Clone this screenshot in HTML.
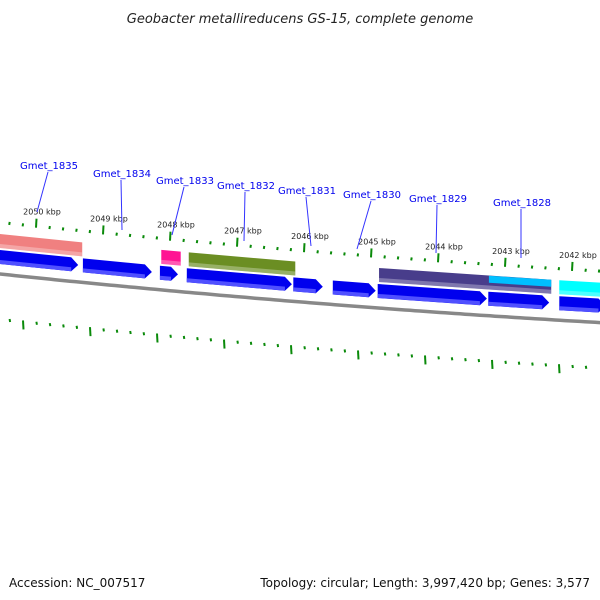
<!DOCTYPE html>
<html><head><meta charset="utf-8"><style>
body{margin:0;background:#fff}
svg{display:block;font-family:"DejaVu Sans","Liberation Sans",sans-serif}
</style></head><body>
<svg id="map" width="600" height="600" viewBox="0 0 600 600">
<text x="300" y="23" text-anchor="middle" font-size="13" font-style="italic" fill="#222">Geobacter metallireducens GS-15, complete genome</text>
<text x="9" y="587" font-size="12" fill="#111">Accession: NC_007517</text>
<text x="590" y="587" font-size="12" fill="#111" text-anchor="end">Topology: circular; Length: 3,997,420 bp; Genes: 3,577</text>
<g id="layer"></g>
</svg>
<script>
const arrows=[[2050.54,2049.37],[2049.30,2048.27],[2048.15,2047.88],[2047.75,2046.18],[2046.16,2045.72],[2045.57,2044.93],[2044.90,2043.27],[2043.25,2042.34],[2042.19,2041.5]];
const bars=[[2050.6,2049.31,"#f08080"],[2048.13,2047.84,"#ff1493"],[2047.72,2046.13,"#6b8e23"],[2044.88,2042.31,"#483d8b"],[2042.19,2041.5,"#00ffff"]];
const halfBars=[[2043.24,2042.31,"#00bfff"]];
const tickKbp=[2050,2049,2048,2047,2046,2045,2044,2043,2042];
const geneNames=["Gmet_1835","Gmet_1834","Gmet_1833","Gmet_1832","Gmet_1831","Gmet_1830","Gmet_1829","Gmet_1828"];
const geneLabelX=[49,122,185,246,307,372,438,522];
const geneLabelY=[169,177,184,189,194,198,202,206];
const geneLineEndX=[37,122,172,244,311,357,436,521];
const geneLineEndY=[212,230,235,241,246,249,253,258];
const NS="http://www.w3.org/2000/svg";
const g=document.getElementById('layer');
const X=p=>36+(2050-p)*67;
const B=x=>270+0.105*x-4e-5*x*x;
function mk(t,a){const e=document.createElementNS(NS,t);for(const k in a)e.setAttribute(k,a[k]);g.appendChild(e);return e;}
function band(x1,x2,o1,o2,fill){
  const pts=[[x1,B(x1)+o1],[x2,B(x2)+o1],[x2,B(x2)+o2],[x1,B(x1)+o2]].map(p=>p.join(',')).join(' ');
  return mk('polygon',{points:pts,fill:fill});
}
// backbone
let d="";for(let x=-5;x<=605;x+=5){d+=(x<0?"M":"L")+x+","+(B(x)+4).toFixed(1);}
const bb=mk('path',{d:d,stroke:"#888",'stroke-width':3.5,fill:"none"});

// arrows
arrows.forEach(a=>{
  const x1=X(a[0]),x2=X(a[1]);const h=x2-7;
  const pts=[[x1,B(x1)-20],[h,B(h)-20],[x2,B(x2)-13],[h,B(h)-6],[x1,B(x1)-6]].map(p=>p.map(v=>v.toFixed(1)).join(',')).join(' ');
  const e=mk('polygon',{points:pts,fill:"#0000ee"});
  
  const s=band(x1,h,-10,-6,"#5050ff");
  
});
bars.forEach(b=>{
  const x1=X(b[0]),x2=X(b[1]);
  const e=band(x1,x2,-36,-22,b[2]);
  
  const s=band(x1,x2,-26,-22,"#ffffff");s.setAttribute('opacity','0.3');
  
});
halfBars.forEach(b=>{
  const x1=X(b[0]),x2=X(b[1]);
  const e=band(x1,x2,-36,-29,b[2]);
  
});
// ticks
for(let i=0;i<=45;i++){
  const p=2050.6-i*0.2;const major=Math.abs(p-Math.round(p))<0.01;
  const x=X(p);const y=B(x)-46;
  const t=mk('line',{x1:x,y1:y,x2:x+0.5,y2:y-(major?9:3),stroke:"#0a8a0a",'stroke-width':2});
  
  const xi=x-13,yi=B(xi)+48;
  const u=mk('line',{x1:xi,y1:yi,x2:xi+0.5,y2:yi+(major?9:3),stroke:"#0a8a0a",'stroke-width':2});
  
}
tickKbp.forEach(p=>{
  const x=X(p);
  const t=mk('text',{x:x+6,y:B(x)-59,'font-size':8,'text-anchor':'middle',fill:"#222"});
  t.textContent=p+" kbp";
  
});
geneNames.forEach((n,i)=>{
  const l=mk('line',{x1:geneLabelX[i]-1,y1:geneLabelY[i]+3,x2:geneLineEndX[i],y2:geneLineEndY[i],stroke:"#3333ff",'stroke-width':1});
  
  const t=mk('text',{x:geneLabelX[i],y:geneLabelY[i],'font-size':10,'text-anchor':'middle',fill:"#0000ee"});
  t.textContent=n;
  
});
</script>
</body></html>
